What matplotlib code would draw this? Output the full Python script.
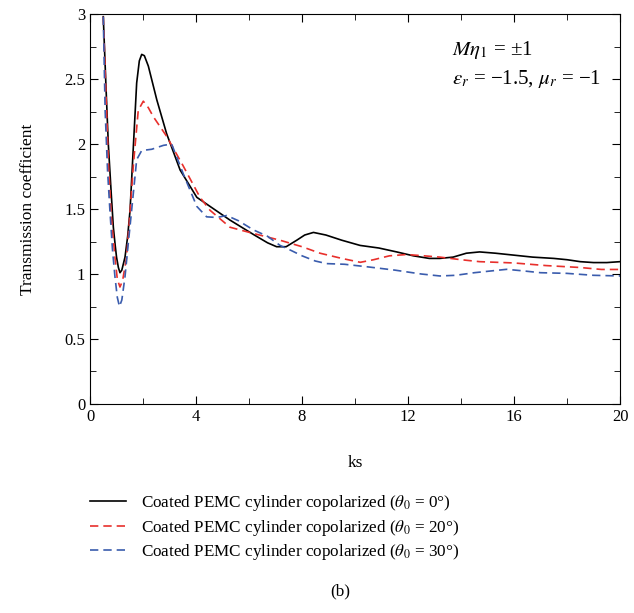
import numpy as np
import matplotlib.pyplot as plt
from matplotlib.ticker import MultipleLocator

plt.rcParams['font.family'] = ['Liberation Serif', 'DejaVu Serif']
plt.rcParams['mathtext.fontset'] = 'stix'

# Datos
ks_0 = [0.5, 0.6, 0.69, 0.8, 0.88, 0.95, 1.0, 1.07, 1.13, 1.2, 1.32, 1.42, 1.51, 1.64, 1.76, 1.86, 1.95,
        2.05, 2.2, 2.52, 2.89, 3.4, 4.03, 4.53, 5.28, 6.2, 6.7, 7.04, 7.4, 7.8, 8.1, 8.43, 8.9, 9.5,
        10.19, 10.9, 11.57, 12.2, 12.8, 13.2, 13.7, 14.2, 14.7, 15.3, 16.0, 16.7, 17.5, 18.0, 18.5,
        19.0, 19.5, 20.0]
t_0 = [2.98, 2.45, 2.0, 1.62, 1.36, 1.22, 1.13, 1.05, 1.01, 1.03, 1.13, 1.29, 1.49, 2.0, 2.47, 2.64, 2.69,
       2.68, 2.6, 2.34, 2.08, 1.8, 1.59, 1.52, 1.415, 1.3, 1.24, 1.21, 1.21, 1.26, 1.30, 1.32, 1.30, 1.26,
       1.22, 1.2, 1.17, 1.14, 1.12, 1.12, 1.13, 1.16, 1.17, 1.16, 1.145, 1.13, 1.12, 1.11, 1.095,
       1.088, 1.088, 1.095]

ks_20 = [0.5, 0.6, 0.69, 0.8, 0.94, 1.03, 1.13, 1.23, 1.38, 1.5, 1.64, 1.82, 2.01, 2.2, 2.39, 2.89, 3.52,
         4.15, 4.53, 5.28, 6.2, 7.17, 8.0, 8.68, 9.5, 10.2, 10.7, 11.3, 11.95, 12.6, 13.2, 14.0, 14.7,
         16.0, 17.2, 18.5, 19.3, 20.0]
t_20 = [2.98, 2.4, 1.87, 1.45, 1.13, 0.96, 0.90, 0.95, 1.13, 1.45, 1.85, 2.26, 2.33, 2.28, 2.21, 2.06, 1.83,
        1.59, 1.49, 1.36, 1.31, 1.26, 1.21, 1.16, 1.12, 1.09, 1.11, 1.14, 1.15, 1.14, 1.13, 1.11, 1.095,
        1.085, 1.065, 1.05, 1.035, 1.035]

ks_30 = [0.5, 0.57, 0.66, 0.75, 0.85, 0.94, 1.03, 1.11, 1.2, 1.32, 1.45, 1.57, 1.76, 1.95, 2.33, 2.77, 3.08,
         3.52, 4.03, 4.4, 4.78, 5.16, 5.6, 6.16, 6.7, 7.17, 7.6, 8.0, 8.5, 8.93, 9.6, 10.44, 11.5, 12.5,
         13.2, 13.8, 14.5, 15.2, 15.72, 16.3, 17.0, 17.99, 19.0, 20.0]
t_30 = [2.98, 2.26, 1.8, 1.49, 1.18, 0.98, 0.82, 0.75, 0.8, 0.98, 1.25, 1.49, 1.88, 1.95, 1.96, 1.99, 2.0,
        1.77, 1.52, 1.44, 1.435, 1.45, 1.41, 1.34, 1.29, 1.22, 1.18, 1.14, 1.10, 1.08, 1.075, 1.056, 1.03,
        1.0, 0.985, 0.99, 1.01, 1.025, 1.036, 1.025, 1.01, 1.005, 0.99, 0.985]

etiquetas = [r'Coated PEMC cylinder copolarized ($\theta_0$ = 0°)',
             r'Coated PEMC cylinder copolarized ($\theta_0$ = 20°)',
             r'Coated PEMC cylinder copolarized ($\theta_0$ = 30°)']

fig = plt.figure(figsize=(6.34, 6.13), dpi=100)
ax = fig.add_axes([0.142, 0.341, 0.836, 0.636])

l0, = ax.plot(ks_0, t_0, color='black', lw=1.2)
l1, = ax.plot(ks_20, t_20, color='#e8302c', lw=1.2, dashes=(5, 3))
l2, = ax.plot(ks_30, t_30, color='#3a5cad', lw=1.2, dashes=(5, 3))

ax.set_xlim(0, 20)
ax.set_ylim(0, 3)
ax.xaxis.set_major_locator(MultipleLocator(4))
ax.xaxis.set_minor_locator(MultipleLocator(2))
ax.yaxis.set_major_locator(MultipleLocator(0.5))
ax.yaxis.set_minor_locator(MultipleLocator(0.25))
ax.tick_params(which='both', direction='in', top=True, right=True, labelsize=12)
ax.tick_params(which='major', length=6)
ax.tick_params(which='minor', length=4)
ax.set_yticks([0, 0.5, 1, 1.5, 2, 2.5, 3], ['0', '0.5', '1', '1.5', '2', '2.5', '3'])
ax.set_xlabel('ks', fontsize=12.5, labelpad=22)
ax.set_ylabel('Transmission coefficient', fontsize=12.5, labelpad=20)

ax.text(0.683, 0.908, r'$M\eta_1$ = ±1', transform=ax.transAxes, fontsize=15, va='center')
ax.text(0.683, 0.833, r'$\varepsilon_r$ = −1.5, $\mu_r$ = −1', transform=ax.transAxes, fontsize=15,
        va='center')

fig.legend([l0, l1, l2], etiquetas, loc='upper left', bbox_to_anchor=(0.142, 0.196),
           frameon=False, fontsize=12.3, handlelength=2.1, handletextpad=0.9,
           labelspacing=0.28, borderpad=0, borderaxespad=0)
fig.text(0.536, 0.028, '(b)', ha='center', fontsize=12.3)

fig.savefig('out.png', dpi=100)
